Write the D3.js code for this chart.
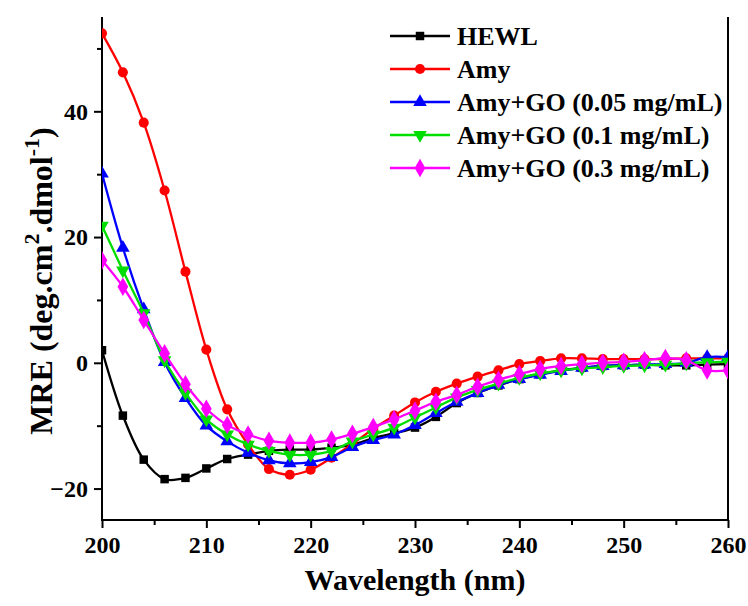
<!DOCTYPE html>
<html>
<head>
<meta charset="utf-8">
<script src="https://cdn.jsdelivr.net/npm/d3@7"></script>
<style>
  body { margin: 0; background: #fff; }
  svg { display: block; }
  svg text { font-family: "Times New Roman", "Liberation Serif", "DejaVu Serif", serif; font-weight: bold; }
</style>
</head>
<body>
<svg id="chart"></svg>
<script>
// wavelength (nm)
const wavelengths = [200, 202, 204, 206, 208, 210, 212, 214, 216, 218, 220, 222, 224, 226, 228, 230,
  232, 234, 236, 238, 240, 242, 244, 246, 248, 250, 252, 254, 256, 258, 260];

// MRE values
const hewl = [2.0, -8.4, -15.4, -18.5, -18.3, -16.8, -15.3, -14.6, -14.0, -13.8, -13.8, -13.5, -13.0, -12.0, -11.2, -10.3,
  -8.6, -6.4, -4.8, -3.6, -2.6, -1.8, -1.2, -0.8, -0.5, -0.4, -0.3, -0.4, -0.4, -0.3, -0.2];
const amy = [52.4, 46.2, 38.2, 27.4, 14.5, 2.1, -7.4, -13.0, -16.9, -17.8, -17.0, -15.1, -12.9, -10.5, -8.4, -6.3,
  -4.6, -3.3, -2.2, -1.2, -0.2, 0.3, 0.7, 0.7, 0.6, 0.6, 0.6, 0.6, 0.7, 0.7, 0.7];
const amyGo005 = [30.1, 18.3, 8.5, 0.1, -5.6, -10.0, -12.5, -14.3, -15.5, -16.0, -15.8, -15.0, -13.4, -12.3, -11.4, -9.9,
  -8.0, -6.2, -4.8, -3.5, -2.6, -1.9, -1.3, -0.8, -0.5, -0.4, -0.3, -0.2, 0.0, 0.9, 0.9];
const amyGo01 = [21.8, 14.7, 7.9, 0.4, -4.8, -9.0, -11.4, -13.0, -14.0, -14.6, -14.6, -14.0, -12.5, -11.4, -10.3, -8.7,
  -7.1, -5.5, -4.3, -3.3, -2.4, -1.7, -1.2, -0.9, -0.7, -0.5, -0.4, -0.3, -0.1, 0.1, 0.2];
const amyGo03 = [16.3, 12.1, 6.8, 1.5, -3.4, -7.3, -9.9, -11.4, -12.4, -12.7, -12.7, -12.2, -11.3, -10.2, -9.0, -7.6,
  -6.2, -5.1, -3.8, -2.7, -1.8, -1.0, -0.5, -0.2, 0.0, 0.15, 0.4, 0.75, 0.4, -1.2, -1.2];

const seriesNames = ["HEWL", "Amy", "Amy+GO (0.05 mg/mL)", "Amy+GO (0.1 mg/mL)", "Amy+GO (0.3 mg/mL)"];
const seriesValues = [hewl, amy, amyGo005, amyGo01, amyGo03];
const seriesColors = ["#000000", "#ff0000", "#0000ff", "#00dd00", "#ff00ff"];
const seriesSymbols = [d3.symbolSquare, d3.symbolCircle, d3.symbolTriangle, d3.symbolTriangle, d3.symbolDiamond];
const seriesRotate = [0, 0, 0, 180, 0];
const seriesSizes = [72, 80, 80, 80, 100];

const xTicks = [200, 210, 220, 230, 240, 250, 260];
const yTicks = [-20, 0, 20, 40];

const w = 748, h = 606;
const padLeft = 102, padRight = 728, padTop = 17, padBottom = 520;

const svg = d3.select("#chart").attr("width", w).attr("height", h);

const x = d3.scaleLinear().domain([200, 260]).range([padLeft, padRight]);
const y = d3.scaleLinear().domain([-25, 55]).range([padBottom, padTop]);

// clip so the last points stay inside the frame
svg.append("clipPath").attr("id", "clip")
  .append("rect").attr("x", padLeft).attr("y", padTop)
  .attr("width", padRight - padLeft).attr("height", padBottom - padTop);

// x axis
const xAxis = svg.append("g").attr("transform", `translate(0,${padBottom})`);
xAxis.append("g").call(d3.axisBottom(x).tickValues([205, 215, 225, 235, 245, 255]).tickSize(5).tickFormat(""));
xAxis.append("g").call(d3.axisBottom(x).tickValues(xTicks).tickSize(8).tickPadding(8));
xAxis.selectAll(".domain").remove();
xAxis.selectAll("line").attr("stroke", "#000").attr("stroke-width", 2);
xAxis.selectAll("text").attr("font-size", 24).attr("fill", "#000");

// y axis
const yAxis = svg.append("g").attr("transform", `translate(${padLeft},0)`);
yAxis.append("g").call(d3.axisLeft(y).tickValues([-10, 10, 30, 50]).tickSize(5).tickFormat(""));
yAxis.append("g").call(d3.axisLeft(y).tickValues(yTicks).tickSize(8).tickPadding(6));
yAxis.selectAll(".domain").remove();
yAxis.selectAll("line").attr("stroke", "#000").attr("stroke-width", 2);
yAxis.selectAll("text").attr("font-size", 24).attr("fill", "#000");
// d3 axes set font-family on the group; drop it so the css serif applies
xAxis.selectAll("g").attr("font-family", null);
yAxis.selectAll("g").attr("font-family", null);

// frame: left, bottom, right
svg.append("path")
  .attr("d", `M${padLeft},${padTop}V${padBottom}H${padRight}V${padTop}`)
  .attr("fill", "none").attr("stroke", "#000").attr("stroke-width", 2);

// curves
const line = d3.line()
  .x((d, i) => x(wavelengths[i]))
  .y(d => y(d))
  .curve(d3.curveCatmullRom.alpha(0.5));

const plot = svg.append("g").attr("clip-path", "url(#clip)");

seriesValues.forEach((vals, k) => {
  const g = plot.append("g");
  g.append("path")
    .datum(vals)
    .attr("d", line)
    .attr("fill", "none")
    .attr("stroke", seriesColors[k])
    .attr("stroke-width", 2.3);
  g.selectAll("path.pt")
    .data(vals)
    .join("path")
    .attr("class", "pt")
    .attr("d", d3.symbol().type(seriesSymbols[k]).size(seriesSizes[k]))
    .attr("transform", (d, i) => `translate(${x(wavelengths[i])},${y(d)}) rotate(${seriesRotate[k]})`)
    .attr("fill", seriesColors[k]);
});

// legend
const legend = svg.append("g");
seriesNames.forEach((name, k) => {
  const ly = 36 + k * 33;
  legend.append("line")
    .attr("x1", 390).attr("x2", 450).attr("y1", ly).attr("y2", ly)
    .attr("stroke", seriesColors[k]).attr("stroke-width", 2.3);
  legend.append("path")
    .attr("d", d3.symbol().type(seriesSymbols[k]).size(seriesSizes[k]))
    .attr("transform", `translate(420,${ly}) rotate(${seriesRotate[k]})`)
    .attr("fill", seriesColors[k]);
  legend.append("text")
    .attr("x", 457).attr("y", ly + 9)
    .attr("font-size", 26)
    .text(name);
});

// axis titles
svg.append("text")
  .attr("x", (padLeft + padRight) / 2).attr("y", 590)
  .attr("text-anchor", "middle")
  .attr("font-size", 30)
  .text("Wavelength (nm)");

const yTitle = svg.append("text")
  .attr("transform", "translate(52,281) rotate(-90)")
  .attr("text-anchor", "middle")
  .attr("font-size", 32);
yTitle.append("tspan").text("MRE (deg.cm");
yTitle.append("tspan").attr("dy", -13).attr("font-size", 22).text("2");
yTitle.append("tspan").attr("dy", 13).text(".dmol");
yTitle.append("tspan").attr("dy", -13).attr("font-size", 22).text("-1");
yTitle.append("tspan").attr("dy", 13).text(")");
</script>
</body>
</html>
